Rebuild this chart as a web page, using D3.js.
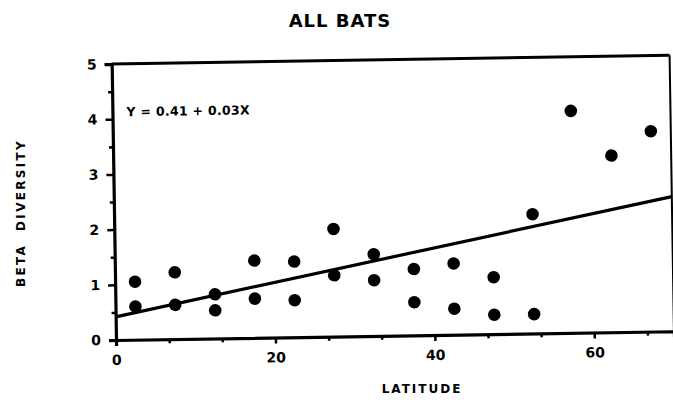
<!DOCTYPE html>
<html>
<head>
<meta charset="utf-8">
<script src="https://cdn.jsdelivr.net/npm/d3@7/dist/d3.min.js"></script>
<style>
  html, body { margin: 0; padding: 0; background: #fff; }
  svg { display: block; }
  text { font-family: "DejaVu Sans", sans-serif; font-weight: bold; fill: #000; }
</style>
</head>
<body>
<svg id="chart" width="673" height="403"></svg>
<script>
// ---- data ----
const titleText = "ALL BATS";
const xTitle = "LATITUDE";
const yTitle = "BETA  DIVERSITY";
const equation = "Y = 0.41 + 0.03X";

const latitude = [2.5, 2.5, 7.5, 7.5, 12.5, 12.5, 17.5, 17.5, 22.5, 22.5, 27.5, 27.5, 32.5, 32.5,
                  37.5, 37.5, 42.5, 42.5, 47.5, 47.5, 52.5, 52.5, 57.5, 62.5, 67.5];
const betaDiversity = [1.05, 0.60, 1.21, 0.62, 0.80, 0.51, 1.40, 0.71, 1.37, 0.67, 1.95, 1.11, 1.48, 1.01,
                       1.20, 0.60, 1.29, 0.47, 1.03, 0.35, 2.16, 0.35, 4.02, 3.20, 3.63];

const fitX = [0, 70];
const fitY = [0.42, 2.44];

const xMajorTicks = [0, 20, 40, 60];
const xMinorTicks = [6.67, 13.33, 26.67, 33.33, 46.67, 53.33, 66.67];
const yMajorTicks = [0, 1, 2, 3, 4, 5];
const yMinorTicks = [0.5, 1.5, 2.5, 3.5, 4.5];
const xDomain = [0, 70];
const yDomain = [0, 5];

// ---- layout ----
const svg = d3.select("#chart");
const W = 673, H = 403;
const origin = { x: 116, y: 340 };
const plotW = 558, plotH = 276;
const tilt = -0.9; // the scanned figure is slightly rotated

svg.append("rect").attr("width", W).attr("height", H).attr("fill", "#fff");

const x = d3.scaleLinear().domain(xDomain).range([0, plotW]);
const y = d3.scaleLinear().domain(yDomain).range([plotH, 0]);

const g = svg.append("g")
  .attr("transform", `translate(${origin.x},${origin.y}) rotate(${tilt}) translate(0,${-plotH})`);

// frame (top and right)
g.append("line")
  .attr("x1", x(xDomain[0])).attr("x2", x(xDomain[1]))
  .attr("y1", y(yDomain[1])).attr("y2", y(yDomain[1]))
  .attr("stroke", "#000").attr("stroke-width", 3);
g.append("line")
  .attr("x1", x(xDomain[1])).attr("x2", x(xDomain[1]))
  .attr("y1", y(yDomain[1])).attr("y2", y(yDomain[0]))
  .attr("stroke", "#000").attr("stroke-width", 2);

// x axis
const xAxisG = g.append("g").attr("transform", `translate(0,${plotH})`);
xAxisG.call(d3.axisBottom(x).tickValues(xMajorTicks).tickSize(6).tickPadding(9).tickFormat(d3.format("d")));
const xMinorG = g.append("g").attr("transform", `translate(0,${plotH})`);
xMinorG.call(d3.axisBottom(x).tickValues(xMinorTicks).tickSize(4).tickFormat(""));
xMinorG.select(".domain").remove();

// y axis
const yAxisG = g.append("g");
yAxisG.call(d3.axisLeft(y).tickValues(yMajorTicks).tickSize(7).tickPadding(8).tickFormat(d3.format("d")));
const yMinorG = g.append("g");
yMinorG.call(d3.axisLeft(y).tickValues(yMinorTicks).tickSize(4).tickFormat(""));
yMinorG.select(".domain").remove();

[xAxisG, yAxisG].forEach(a => {
  a.select(".domain").attr("stroke", "#000").attr("stroke-width", 3.2);
  a.selectAll(".tick text").attr("font-size", 14).attr("font-weight", "bold")
    .attr("font-family", "'DejaVu Sans', sans-serif").attr("fill", "#000");
});
[xAxisG, xMinorG, yAxisG, yMinorG].forEach(a => {
  a.selectAll(".tick line").attr("stroke", "#000").attr("stroke-width", 2.5);
});

// regression line
const fit = fitX.map((v, i) => [v, fitY[i]]);
g.append("path")
  .datum(fit)
  .attr("d", d3.line().x(d => x(d[0])).y(d => y(d[1])))
  .attr("fill", "none").attr("stroke", "#000").attr("stroke-width", 3.2);

// points
const pts = latitude.map((v, i) => ({ lat: v, beta: betaDiversity[i] }));
g.selectAll("circle.pt").data(pts).enter().append("circle")
  .attr("class", "pt")
  .attr("cx", d => x(d.lat)).attr("cy", d => y(d.beta))
  .attr("r", 6.3).attr("fill", "#000");

// equation
g.append("text")
  .attr("x", 14).attr("y", 49)
  .attr("dominant-baseline", "middle")
  .attr("font-size", 12.5)
  .attr("letter-spacing", 0.3)
  .text(equation);

// titles
svg.append("text")
  .attr("x", 340).attr("y", 22)
  .attr("text-anchor", "middle").attr("dominant-baseline", "middle")
  .attr("font-size", 18).attr("letter-spacing", 1)
  .text(titleText);

svg.append("text")
  .attr("x", 422).attr("y", 389)
  .attr("text-anchor", "middle").attr("dominant-baseline", "middle")
  .attr("font-size", 12).attr("letter-spacing", 2)
  .text(xTitle);

svg.append("text")
  .attr("transform", "translate(21,213) rotate(-90)")
  .attr("text-anchor", "middle").attr("dominant-baseline", "middle")
  .attr("font-size", 12).attr("letter-spacing", 2.3)
  .attr("xml:space", "preserve")
  .style("white-space", "pre")
  .text(yTitle);
</script>
</body>
</html>
